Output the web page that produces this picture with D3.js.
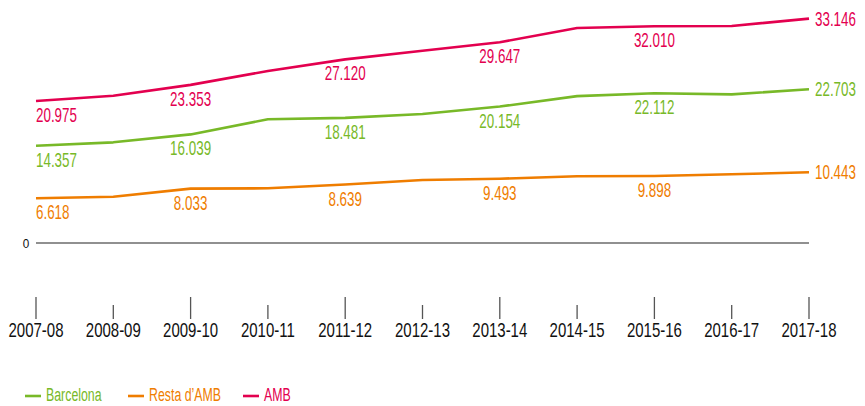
<!DOCTYPE html>
<html>
<head>
<meta charset="utf-8">
<script src="https://cdn.jsdelivr.net/npm/d3@7/dist/d3.min.js"></script>
<style>
  html, body { margin: 0; padding: 0; background: #fff; }
  svg { display: block; font-family: "Liberation Sans", Arial, sans-serif; }
</style>
</head>
<body>
<svg id="chart" width="865" height="406"></svg>
<script>
// Academic years on the horizontal axis
const years = ["2007-08", "2008-09", "2009-10", "2010-11", "2011-12", "2012-13",
               "2013-14", "2014-15", "2015-16", "2016-17", "2017-18"];

// Values per series (thousands)
const barcelona = [14.357, 14.87, 16.039, 18.27, 18.481, 19.05, 20.154, 21.70, 22.112, 21.96, 22.703];
const restaAMB  = [6.618, 6.84, 8.033, 8.08, 8.639, 9.30, 9.493, 9.85, 9.898, 10.15, 10.443];
const amb       = [20.975, 21.76, 23.353, 25.40, 27.120, 28.40, 29.647, 31.76, 32.010, 32.05, 33.146];

// Years whose value is written next to the line
const labelledIdx = [0, 2, 4, 6, 8, 10];

const seriesNames = ["Barcelona", "Resta d\u2019AMB", "AMB"];
const seriesColors = ["#78b928", "#ef7d00", "#e3004f"];
const seriesValues = [barcelona, restaAMB, amb];

const fmt = v => v.toFixed(3);

const svg = d3.select("#chart");

// Condensed text: a regular face squeezed horizontally
function condensed(sel, x, y, sx) {
  return sel.attr("x", 0).attr("y", 0)
    .attr("transform", (d, i) => `translate(${typeof x === "function" ? x(d, i) : x},${typeof y === "function" ? y(d, i) : y}) scale(${sx},1)`);
}

const x = d3.scalePoint().domain(years).range([36, 809]);
const y = d3.scaleLinear().domain([0, 33.146]).range([243, 18.6]);

// Zero baseline
svg.append("line")
  .attr("x1", x(years[0])).attr("x2", x(years[years.length - 1]))
  .attr("y1", y(0)).attr("y2", y(0))
  .attr("stroke", "#6b6b6b").attr("stroke-width", 1.6);

condensed(svg.append("text"), 26, y(0) + 5, 0.9)
  .attr("text-anchor", "middle")
  .attr("font-size", 13)
  .attr("fill", "#111")
  .text("0");

// Category axis: alternating long and short ticks
const xAxis = svg.append("g").attr("transform", "translate(0,319)");
xAxis.selectAll("line.tick")
  .data(years)
  .join("line")
  .attr("class", "tick")
  .attr("x1", d => x(d)).attr("x2", d => x(d))
  .attr("y1", (d, i) => i % 2 === 0 ? -22 : -14)
  .attr("y2", 0)
  .attr("stroke", "#555").attr("stroke-width", 1.3);
condensed(xAxis.selectAll("text").data(years).join("text"), d => x(d), 18, 0.75)
  .attr("text-anchor", "middle")
  .attr("font-size", 20)
  .attr("fill", "#111")
  .text(d => d);

// Lines
const line = d3.line()
  .x((d, i) => x(years[i]))
  .y(d => y(d));

seriesValues.forEach((vals, s) => {
  svg.append("path")
    .datum(vals)
    .attr("d", line)
    .attr("fill", "none")
    .attr("stroke", seriesColors[s])
    .attr("stroke-width", 2.6)
    .attr("stroke-linejoin", "round");

  const last = years.length - 1;
  condensed(
    svg.append("g").selectAll("text").data(labelledIdx).join("text"),
    i => i === last ? x(years[i]) + 6 : x(years[i]),
    i => i === last ? y(vals[i]) + 7 : y(vals[i]) + 21,
    0.67)
    .attr("text-anchor", i => (i === 0 || i === last) ? "start" : "middle")
    .attr("font-size", 20)
    .attr("fill", seriesColors[s])
    .text(i => fmt(vals[i]));
});

// Legend
const legendX = [25, 128, 243];
const legend = svg.append("g");
seriesNames.forEach((name, s) => {
  legend.append("line")
    .attr("x1", legendX[s]).attr("x2", legendX[s] + 16)
    .attr("y1", 396).attr("y2", 396)
    .attr("stroke", seriesColors[s]).attr("stroke-width", 2.6);
  condensed(legend.append("text"), legendX[s] + 21, 401, 0.65)
    .attr("font-size", 19)
    .attr("fill", seriesColors[s])
    .text(name);
});
</script>
</body>
</html>
